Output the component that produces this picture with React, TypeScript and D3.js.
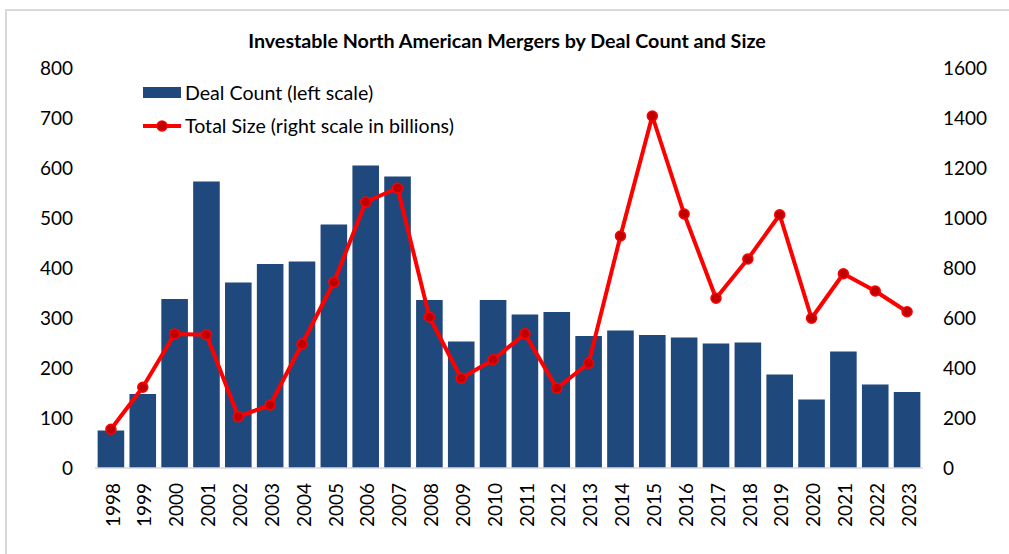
import React from 'react';
import * as d3 from 'd3';

const years = ['1998', '1999', '2000', '2001', '2002', '2003', '2004', '2005', '2006', '2007', '2008', '2009', '2010',
    '2011', '2012', '2013', '2014', '2015', '2016', '2017', '2018', '2019', '2020', '2021', '2022', '2023'];

// deal count, left scale
const dealCount = [75, 148, 338, 573, 371, 408, 413, 487, 605, 583, 336, 253, 336,
    307, 312, 264, 275, 266, 261, 249, 251, 187, 137, 233, 167, 152];

// total size, right scale (billions)
const totalSize = [155, 323, 536, 533, 205, 252, 496, 743, 1064, 1120, 604, 359, 433,
    537, 319, 419, 928, 1408, 1016, 679, 836, 1013, 599, 777, 708, 625];

const leftTicks = [0, 100, 200, 300, 400, 500, 600, 700, 800];
const rightTicks = [0, 200, 400, 600, 800, 1000, 1200, 1400, 1600];

const title = 'Investable North American Mergers by Deal Count and Size';
const barLabel = 'Deal Count (left scale)';
const lineLabel = 'Total Size (right scale in billions)';

const W = 1009, H = 554;
const font = 'Lato, "Liberation Sans", sans-serif';

export default function App() {
    const margin = { top: 68, right: 86, bottom: 86, left: 95 };

    const x = d3.scaleBand()
        .domain(years)
        .range([margin.left, W - margin.right])
        .paddingInner(0.165)
        .paddingOuter(0.0825);

    const yLeft = d3.scaleLinear().domain([0, 800]).range([H - margin.bottom, margin.top]);
    const yRight = d3.scaleLinear().domain([0, 1600]).range([H - margin.bottom, margin.top]);

    const cx = (i) => x(years[i]) + x.bandwidth() / 2;

    const line = d3.line()
        .x((d, i) => cx(i))
        .y(d => yRight(d));

    const base = yLeft(0);

    return (
        <svg width={W} height={H} style={{ position: 'absolute', left: 0, top: 0, background: '#fff' }}
            fontFamily={font}>
            <rect x={6} y={10} width={W} height={H} fill="#fff" stroke="#d9d9d9" strokeWidth={2} />

            <text x={507} y={43} textAnchor="middle" dominantBaseline="middle" fontWeight="bold"
                fontSize={19.7} fill="#000">{title}</text>

            {dealCount.map((v, i) => (
                <rect key={years[i]} x={x(years[i])} y={yLeft(v)} width={x.bandwidth()}
                    height={base - yLeft(v)} fill="#1f497d" />
            ))}

            <line x1={margin.left} x2={W - margin.right} y1={base} y2={base} stroke="#d9d9d9" strokeWidth={1.5} />

            <path d={line(totalSize)} fill="none" stroke="#ff0000" strokeWidth={4} strokeLinejoin="round" />
            {totalSize.map((v, i) => (
                <circle key={years[i]} cx={cx(i)} cy={yRight(v)} r={5} fill="#c00000" stroke="#ff0000" strokeWidth={1.5} />
            ))}

            {leftTicks.map(t => (
                <text key={t} x={73} y={yLeft(t)} dy="0.35em" textAnchor="end" fontSize={19} fill="#000">{t}</text>
            ))}
            {rightTicks.map(t => (
                <text key={t} x={943} y={yRight(t)} dy="0.35em" textAnchor="start" fontSize={19} fill="#000">{t}</text>
            ))}

            {years.map((yr, i) => (
                <text key={yr} transform={`translate(${cx(i) + 2}, 483) rotate(-90)`} dy="0.35em"
                    textAnchor="end" fontSize={19} fill="#000">{yr}</text>
            ))}

            {/* legend */}
            <rect x={143} y={87} width={38} height={11} fill="#1f497d" />
            <text x={185} y={93} dy="0.35em" fontSize={19.6} fill="#000">{barLabel}</text>
            <line x1={143} x2={181} y1={126} y2={126} stroke="#ff0000" strokeWidth={4} />
            <circle cx={162} cy={126} r={5} fill="#c00000" stroke="#ff0000" strokeWidth={1.5} />
            <text x={185} y={126} dy="0.35em" fontSize={19.6} fill="#000">{lineLabel}</text>
        </svg>
    );
}
